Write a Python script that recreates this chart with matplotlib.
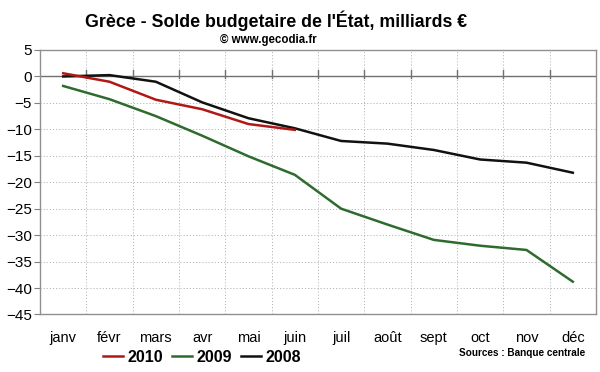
import numpy as np
import matplotlib
matplotlib.use("Agg")
import matplotlib.pyplot as plt
import matplotlib.transforms as mtransforms

plt.rcParams['font.family'] = ['Liberation Sans', 'DejaVu Sans']

# Données (milliards €)
mois = ['janv', 'févr', 'mars', 'avr', 'mai', 'juin',
        'juil', 'août', 'sept', 'oct', 'nov', 'déc']
solde_2010 = [0.6, -1.0, -4.4, -6.2, -9.0, -10.1]
solde_2009 = [-1.8, -4.3, -7.5, -11.2, -15.1, -18.6,
              -25.0, -28.0, -30.9, -32.0, -32.8, -38.8]
solde_2008 = [0.0, 0.25, -1.0, -4.9, -7.9, -9.8,
              -12.2, -12.7, -13.9, -15.7, -16.3, -18.2]
y_ticks = list(range(5, -50, -5))

fig = plt.figure(figsize=(6, 3.72), dpi=100)
ax = fig.add_axes([0.0667, 0.1546, 0.9266, 0.711])

x = np.arange(len(mois))
ax.set_xlim(-0.5, len(mois) - 0.5)
ax.set_ylim(-45, 5)

# grille pointillée (centres et limites des catégories)
ax.set_xticks(np.arange(-0.5, len(mois), 0.5), minor=True)
ax.set_yticks(y_ticks)
ax.grid(which='minor', axis='x', color='#b8b8b8', linestyle=(0, (1.2, 2)), linewidth=0.7)
ax.grid(which='major', axis='y', color='#b8b8b8', linestyle=(0, (1.2, 2)), linewidth=0.7)
ax.tick_params(axis='x', which='minor', length=0)

# axe zéro avec graduations
ax.axhline(0, color='#707070', linewidth=1.0, zorder=2)
trans = mtransforms.blended_transform_factory(ax.transData, ax.transAxes)
for b in np.arange(0.5, len(mois) - 0.5, 1.0):
    ax.plot([b, b], [0.893, 0.925], color='#707070', linewidth=1.0,
            transform=trans, zorder=2)

l10, = ax.plot(x[:len(solde_2010)], solde_2010, color='#b01818', linewidth=1.8, zorder=4)
l09, = ax.plot(x, solde_2009, color='#2e6b2e', linewidth=1.8, zorder=3)
l08, = ax.plot(x, solde_2008, color='#111111', linewidth=1.8, zorder=3)

ax.set_xticks(x)
ax.set_xticklabels(mois, fontsize=10.5)
ax.tick_params(axis='x', which='major', length=0, pad=12)
ax.tick_params(axis='y', length=4, color='#808080', labelsize=11, pad=2)

for s in ax.spines.values():
    s.set_color('#909090')
    s.set_linewidth(1.0)

fig.text(0.46, 0.944, "Grèce - Solde budgetaire de l'État, milliards €",
         ha='center', va='center', fontsize=12.8, fontweight='bold')
fig.text(0.447, 0.892, "© www.gecodia.fr", ha='center', va='center',
         fontsize=8.3, fontweight='bold')

fig.legend([l10, l09, l08], ['2010', '2009', '2008'], loc='center',
           bbox_to_anchor=(0.337, 0.04), ncol=3, frameon=False,
           prop={'weight': 'bold', 'size': 11.5}, handlelength=1.25,
           handletextpad=0.3, columnspacing=0.55)

fig.text(0.975, 0.051, "Sources : Banque centrale", ha='right', va='center',
         fontsize=7.2, fontweight='bold')

fig.savefig('out.png', dpi=100, facecolor='white')
